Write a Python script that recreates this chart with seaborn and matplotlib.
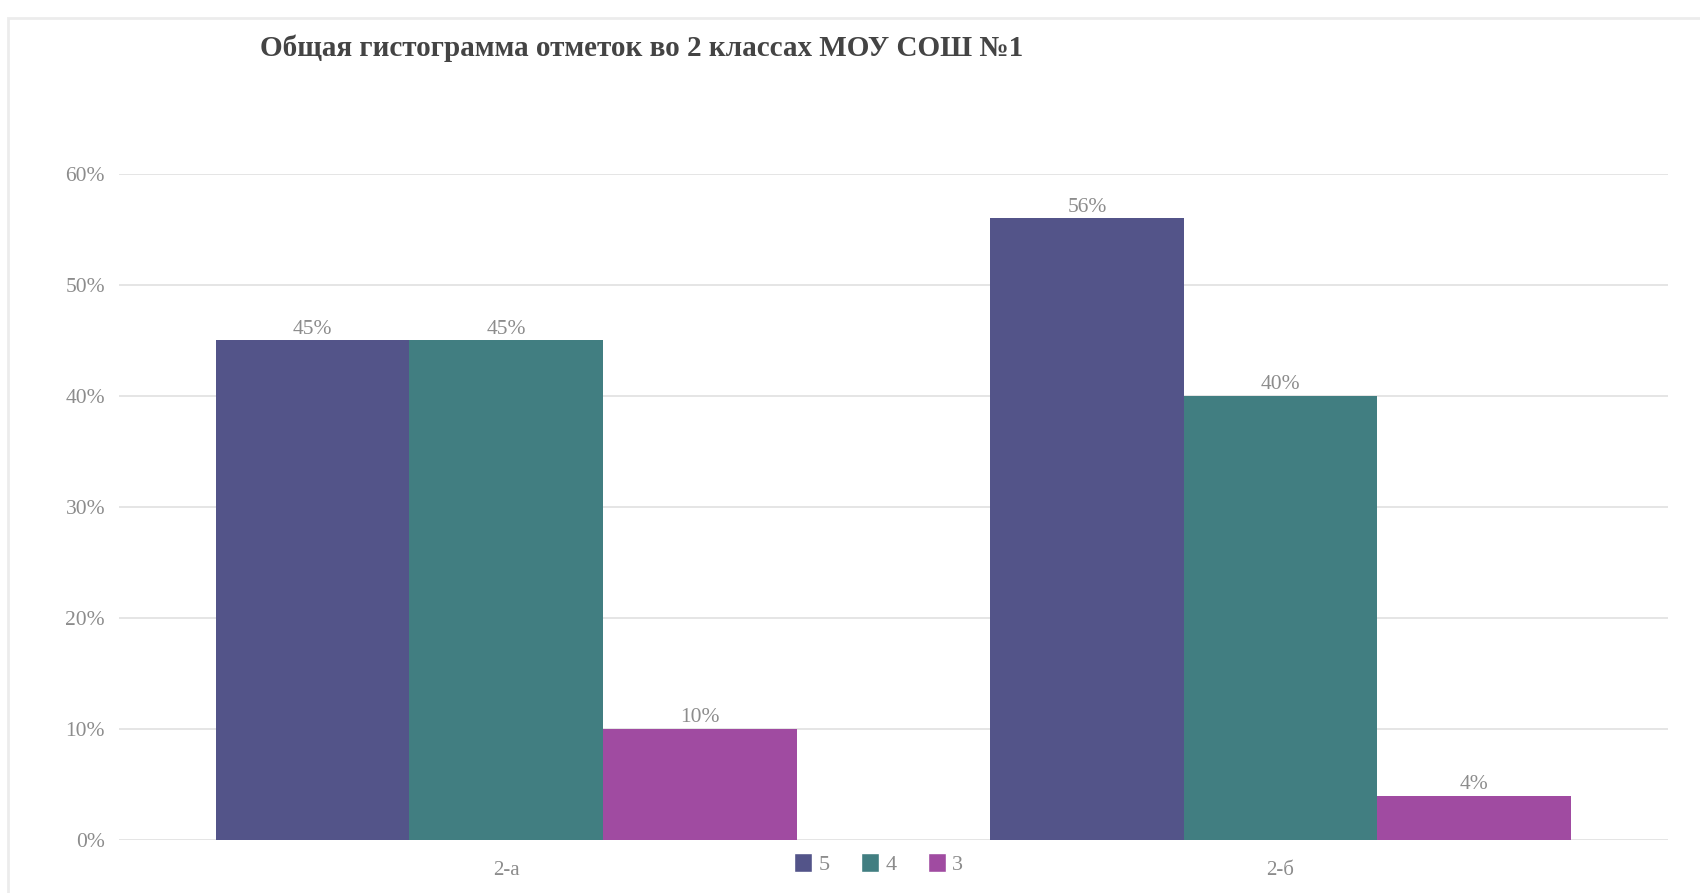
import matplotlib
matplotlib.use("Agg")
import matplotlib.pyplot as plt
import matplotlib.patches as mpatches
from matplotlib.ticker import FuncFormatter
import seaborn as sns
import pandas as pd

# Share of grades per class
classes = ["2-а", "2-б"]
grades = ["5", "4", "3"]
share_5 = [0.45, 0.56]
share_4 = [0.45, 0.40]
share_3 = [0.10, 0.04]
colors = ["#535489", "#417E81", "#A04BA1"]
title = "Общая гистограмма отметок во 2 классах МОУ СОШ №1"

rows = []
for grade, vals in zip(grades, [share_5, share_4, share_3]):
    for cls, v in zip(classes, vals):
        rows.append({"Класс": cls, "Отметка": grade, "Доля": v})
df = pd.DataFrame(rows)

sns.set_theme(style="white")
plt.rcParams["font.family"] = ["Liberation Serif", "DejaVu Serif"]

fig = plt.figure(figsize=(17, 8.93), dpi=100)
ax = fig.add_axes([0.070, 0.0594, 0.911, 0.7463])

sns.barplot(data=df, x="Класс", y="Доля", hue="Отметка", hue_order=grades,
            palette=colors, width=0.75, saturation=1, ax=ax,
            edgecolor="none", linewidth=0, legend=False, errorbar=None)

ax.set_ylim(0, 0.6)
ax.set_xlim(-0.5, 1.5)
ax.set_yticks([0, 0.1, 0.2, 0.3, 0.4, 0.5, 0.6])
ax.yaxis.set_major_formatter(FuncFormatter(lambda v, _: f"{v * 100:.0f}%"))
ax.grid(axis="y", color="#e3e3e3", linewidth=1.3)
ax.set_axisbelow(True)
for s in ax.spines.values():
    s.set_visible(False)
ax.set_xlabel("")
ax.set_ylabel("")
ax.tick_params(axis="y", length=0, pad=10, labelsize=15.5, labelcolor="#8c8c8c")
ax.tick_params(axis="x", length=0, pad=15, labelsize=15, labelcolor="#8c8c8c")

for cont in ax.containers:
    ax.bar_label(cont, labels=[f"{v * 100:.0f}%" for v in cont.datavalues],
                 padding=1, fontsize=15.5, color="#8c8c8c")

handles = [mpatches.Patch(facecolor=c, label=g) for g, c in zip(grades, colors)]
fig.legend(handles=handles, loc="center", bbox_to_anchor=(0.517, 0.032), ncol=3,
           frameon=False, fontsize=16, handlelength=0.8, handleheight=0.9,
           handletextpad=0.3, columnspacing=1.4, labelcolor="#8c8c8c")

fig.text(0.153, 0.946, title, fontsize=21, fontweight="bold", color="#444444",
         va="center", ha="left")

# thin frame around the chart area
fig.patches.append(mpatches.Rectangle((0.0045, -0.01), 1.0, 0.9995 - 0.0095,
                                      transform=fig.transFigure, fill=False,
                                      edgecolor="#ececec", linewidth=2))

fig.savefig("out.png", dpi=100)
